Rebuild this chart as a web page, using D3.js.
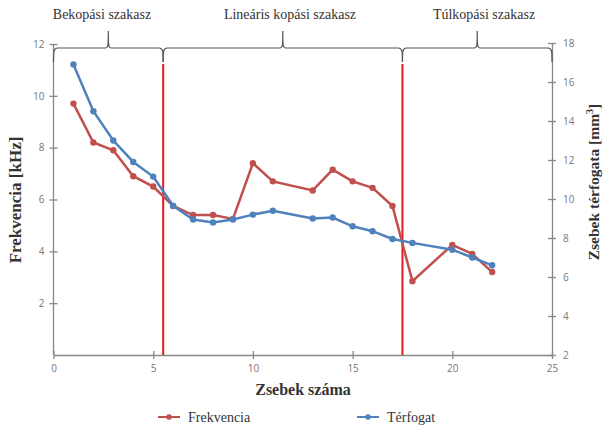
<!DOCTYPE html>
<meta charset="utf-8">
<style>
  body { margin: 0; background: #fff; }
  .tick text { font-family: "Open Sans", "Liberation Sans", sans-serif; font-size: 10px; fill: #777; }
  .axis path, .axis line { stroke: #888; stroke-width: 1.3px; }
  .title { font-family: "Liberation Serif", "DejaVu Serif", serif; font-weight: bold; fill: #333; }
  .phase { font-family: "Liberation Serif", "DejaVu Serif", serif; font-size: 14px; fill: #333; }
  .legend text { font-family: "Liberation Serif", "DejaVu Serif", serif; font-size: 14px; fill: #333; }
</style>
<body>
<svg width="607" height="429"></svg>
<script src="https://d3js.org/d3.v7.min.js"></script>
<script>
// adatok ---------------------------------------------------------------------
var pockets = [1, 2, 3, 4, 5, 6, 7, 8, 9, 10, 11, 13, 14, 15, 16, 17, 18, 20, 21, 22];
var frekvencia = [9.7, 8.2, 7.9, 6.9, 6.5, 5.75, 5.4, 5.4, 5.25, 7.4, 6.7, 6.35, 7.15, 6.7, 6.45, 5.75, 2.85, 4.25, 3.9, 3.2];
var terfogat = [16.9, 14.5, 13.0, 11.9, 11.15, 9.65, 8.95, 8.8, 8.95, 9.2, 9.4, 9.0, 9.05, 8.6, 8.35, 7.95, 7.75, 7.4, 7.0, 6.6];
var phaseBounds = [0, 5.5, 17.5, 25];
var phaseNames = ["Bekopási szakasz", "Lineáris kopási szakasz", "Túlkopási szakasz"];
var xTicks = [0, 5, 10, 15, 20, 25];
var leftTicks = [2, 4, 6, 8, 10, 12];
var rightTicks = [2, 4, 6, 8, 10, 12, 14, 16, 18];
//------------------------------------------------------------------------------

const svg = d3.select('svg');
const red = '#c0504d', blue = '#4f81bd';

const x = d3.scaleLinear().domain([0, 25]).range([53.5, 552]);
const yL = d3.scaleLinear().domain([0, 12]).range([355, 44]);
const yR = d3.scaleLinear().domain([2, 18]).range([355, 43]);

// tengelyek (a beosztás a tengelyen át is nyúlik)
function crossTicks(g) {
  g.selectAll('.tick line').clone().attr('x2', function () { return -(+d3.select(this).attr('x2') || 0); })
    .attr('y2', function () { return -(+d3.select(this).attr('y2') || 0); });
}

svg.append('g').attr('class', 'axis').attr('transform', 'translate(0,355)')
  .call(d3.axisBottom(x).tickValues(xTicks).tickSize(4).tickPadding(6).tickSizeOuter(0))
  .call(crossTicks);

svg.append('g').attr('class', 'axis').attr('transform', 'translate(53.5,0)')
  .call(d3.axisLeft(yL).tickValues(leftTicks).tickSize(4).tickPadding(5).tickSizeOuter(0))
  .call(crossTicks)
  .call(g => g.select('.domain').attr('d', 'M0,355V44'));

svg.append('g').attr('class', 'axis').attr('transform', 'translate(552,0)')
  .call(d3.axisRight(yR).tickValues(rightTicks).tickSize(4).tickPadding(7).tickSizeOuter(0))
  .call(crossTicks);

// fázishatárok (piros függőleges vonalak)
svg.selectAll('.bound')
  .data(phaseBounds.slice(1, 3))
  .enter().append('line')
  .attr('x1', d => x(d)).attr('x2', d => x(d))
  .attr('y1', 64).attr('y2', 355)
  .attr('stroke', '#e8191f').attr('stroke-width', 2);

// kapcsos zárójelek
const by = 48;
function brace(x0, x1) {
  const xm = (x0 + x1) / 2;
  return `M${x0},62 C${x0},52 ${x0},${by} ${x0 + 4},${by} L${xm - 3},${by} C${xm},${by} ${xm},${by - 3} ${xm},${by - 17}` +
    ` C${xm},${by - 3} ${xm},${by} ${xm + 3},${by} L${x1 - 4},${by} C${x1},${by} ${x1},52 ${x1},62`;
}
phaseNames.forEach((name, i) => {
  const x0 = x(phaseBounds[i]), x1 = x(phaseBounds[i + 1]);
  svg.append('path').attr('d', brace(x0, x1))
    .attr('fill', 'none').attr('stroke', '#555').attr('stroke-width', 1.2);
});
var phaseCenters = [102, 290, 484];
svg.selectAll('.phase')
  .data(phaseNames)
  .enter().append('text')
  .attr('class', 'phase')
  .attr('x', (d, i) => phaseCenters[i]).attr('y', 19)
  .attr('text-anchor', 'middle')
  .text(d => d);

// adatsorok
function drawSeries(values, yScale, color) {
  const pts = pockets.map((p, i) => [x(p), yScale(values[i])]);
  svg.append('path').datum(pts)
    .attr('d', d3.line())
    .attr('fill', 'none').attr('stroke', color).attr('stroke-width', 2.5);
  svg.append('g').selectAll('circle').data(pts)
    .enter().append('circle')
    .attr('cx', d => d[0]).attr('cy', d => d[1]).attr('r', 3.2)
    .attr('fill', color);
}
drawSeries(frekvencia, yL, red);
drawSeries(terfogat, yR, blue);

// tengelycímek
svg.append('text').attr('class', 'title').attr('font-size', 17)
  .attr('transform', 'translate(21,200) rotate(-90)').attr('text-anchor', 'middle')
  .text('Frekvencia [kHz]');

const rt = svg.append('text').attr('class', 'title').attr('font-size', 15.5)
  .attr('transform', 'translate(599,182) rotate(-90)').attr('text-anchor', 'middle');
rt.append('tspan').text('Zsebek térfogata [mm');
rt.append('tspan').attr('font-size', 10).attr('dy', -6).text('3');
rt.append('tspan').attr('dy', 6).text(']');

svg.append('text').attr('class', 'title').attr('font-size', 16)
  .attr('x', 303).attr('y', 395).attr('text-anchor', 'middle')
  .text('Zsebek száma');

// jelmagyarázat
var legendItems = [{ name: 'Frekvencia', color: red, x: 158 }, { name: 'Térfogat', color: blue, x: 357 }];
const lg = svg.append('g').attr('class', 'legend').selectAll('g')
  .data(legendItems).enter().append('g')
  .attr('transform', d => `translate(${d.x},417)`);
lg.append('line').attr('x1', 0).attr('x2', 22).attr('stroke', d => d.color).attr('stroke-width', 2);
lg.append('circle').attr('cx', 11).attr('r', 2.8).attr('fill', d => d.color);
lg.append('text').attr('x', 30).attr('y', 5).text(d => d.name);
</script>
</body>
